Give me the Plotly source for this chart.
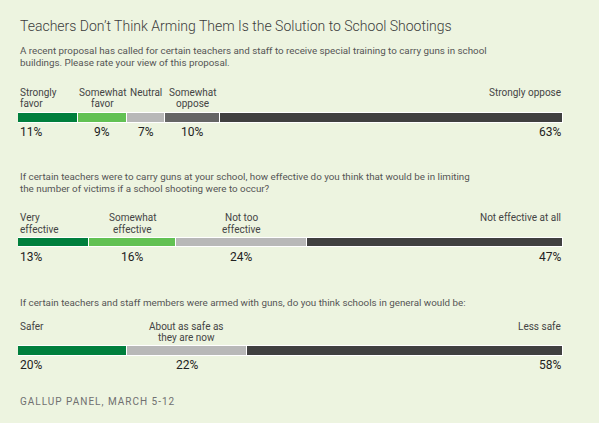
import plotly.graph_objects as go

# question texts
title = "Teachers Don\u2019t Think Arming Them Is the Solution to School Shootings"
q1_text = ["A recent proposal has called for certain teachers and staff to receive special training to carry guns in school",
           "buildings. Please rate your view of this proposal."]
q2_text = ["If certain teachers were to carry guns at your school, how effective do you think that would be in limiting",
           "the number of victims if a school shooting were to occur?"]
q3_text = ["If certain teachers and staff members were armed with guns, do you think schools in general would be:"]
source = "GALLUP PANEL, MARCH 5-12"

# answers and shares (%)
q1_labels = ["Strongly\nfavor", "Somewhat\nfavor", "Neutral", "Somewhat\noppose", "Strongly oppose"]
q1_values = [11, 9, 7, 10, 63]
q2_labels = ["Very\neffective", "Somewhat\neffective", "Not too\neffective", "Not effective at all"]
q2_values = [13, 16, 24, 47]
q3_labels = ["Safer", "About as safe as\nthey are now", "Less safe"]
q3_values = [20, 22, 58]

DKGREEN = "#007f3d"
LTGREEN = "#62c153"
LTGRAY = "#b8b8b8"
MDGRAY = "#656565"
DKGRAY = "#404040"
q1_colors = [DKGREEN, LTGREEN, LTGRAY, MDGRAY, DKGRAY]
q2_colors = [DKGREEN, LTGREEN, LTGRAY, DKGRAY]
q3_colors = [DKGREEN, LTGRAY, DKGRAY]

W, H = 599, 423
BG = "#edf4e0"
FONT = "Roboto"

fig = go.Figure()
annos = []


def text_lines(lines, x, y, size, color, step, xanchor="left", xref="paper", weight=400):
    for i, ln in enumerate(lines):
        annos.append(dict(
            text=ln, x=x, y=y + i * step, xref=xref, yref="y",
            xanchor=xanchor, yanchor="middle", showarrow=False,
            font=dict(family=FONT, size=size, color=color, weight=weight),
        ))


# (labels, values, colors, label top line y, bar center y, pct y)
rows = [
    (q1_labels, q1_values, q1_colors, 92, 117.8, 132.3),
    (q2_labels, q2_values, q2_colors, 217.7, 242.5, 257),
    (q3_labels, q3_values, q3_colors, 326, 350.7, 365),
]

for labels, values, colors, ylab, ybar, ypct in rows:
    cum = 0
    n = len(values)
    for i, (lab, v, c) in enumerate(zip(labels, values, colors)):
        fig.add_trace(go.Bar(
            x=[v], y=[ybar], orientation="h", width=9.6,
            marker=dict(color=c, line=dict(color="white", width=1)),
            hoverinfo="skip", showlegend=False,
        ))
        if i == 0:
            xa, xpos = "left", 0
        elif i == n - 1:
            xa, xpos = "right", 100
        else:
            xa, xpos = "center", cum + v / 2
        text_lines(lab.split("\n"), xpos, ylab, 10, "#444444", 11.3, xa, "x")
        text_lines([f"{v}%"], xpos, ypct, 12, "#222222", 0, xa, "x")
        cum += v

text_lines([title], 18 / W, 25.5, 14, "#3c3c3c", 0, weight=300)
text_lines(q1_text, 18 / W, 50.6, 9.8, "#555555", 11.5)
text_lines(q2_text, 18 / W, 176.8, 9.8, "#555555", 11.5)
text_lines(q3_text, 18 / W, 302.7, 9.8, "#555555", 11.5)
annos.append(dict(
    text=f"<span style='letter-spacing:1px'>{source}</span>",
    x=18 / W, y=401.7, xref="paper", yref="y", xanchor="left", yanchor="middle",
    showarrow=False, font=dict(family=FONT, size=10, color="#707070"),
))

fig.update_layout(
    width=W, height=H, margin=dict(l=0, r=0, t=0, b=0),
    paper_bgcolor=BG, plot_bgcolor=BG,
    barmode="stack", bargap=0,
    xaxis=dict(domain=[18 / W, 563 / W], range=[0, 100], visible=False, fixedrange=True),
    yaxis=dict(range=[H, 0], visible=False, fixedrange=True),
    annotations=annos,
)

fig.write_html("out.html", config={"displayModeBar": False},
               post_script="document.body.style.margin='0';")
